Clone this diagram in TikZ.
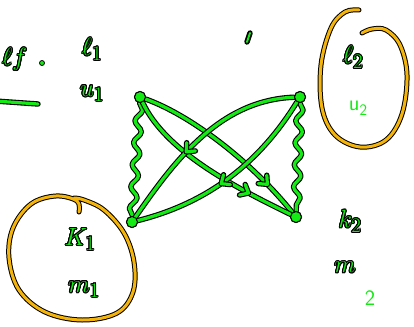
\documentclass[tikz,border=0pt]{standalone}
\usepackage[copies]{contour}
\usetikzlibrary{decorations.pathmorphing,decorations.markings}
\definecolor{hgreen}{RGB}{20,235,20}
\definecolor{horange}{RGB}{245,180,10}
\contourlength{1.1pt}
\contournumber{16}
\newcommand\gtext[1]{\contour{black}{\textcolor{hgreen}{#1}}}
\begin{document}
\begin{tikzpicture}[x=1pt,y=-1pt,
  pen/.style={draw=hgreen, line width=3.2pt, line cap=round, line join=round,
    preaction={draw=black, line width=5.4pt, line cap=round, line join=round}},
  ring/.style={draw=horange, line width=3pt, line cap=round,
    preaction={draw=black, line width=5pt, line cap=round}},
  dot/.style={circle, fill=hgreen, draw=black, line width=1pt, minimum size=11pt, inner sep=0pt},
  wavy/.style={pen, decorate, decoration={snake, amplitude=3.5pt, segment length=22pt}},
  arrmark/.style={postaction={decorate, decoration={markings,
    mark=at position #1 with {\draw[pen] (-7pt,6pt)--(0,0)--(-7pt,-6pt);}}}},
  lab/.style={inner sep=0pt, font=\fontsize{28}{30}\selectfont},
  typed/.style={inner sep=0pt, text=hgreen, font=\sffamily\fontsize{22}{24}\selectfont}]
\useasboundingbox (0,0) rectangle (414,326);
\clip (0,0) rectangle (414,326);
% top-left fragment
\node[lab, anchor=west] (frag) at (2,60) {\gtext{$\ell f$}};
\node[circle, fill=hgreen, draw=black, line width=0.8pt, minimum size=5pt, inner sep=0pt] (pt) at (42,63) {};
\coordinate (ul0) at (-5,101);
\coordinate (ul1) at (38,104);
\draw[pen] (ul0) -- (ul1);
% small mark at top
\coordinate (m0) at (250,33);
\coordinate (m1) at (247,42);
\draw[pen, line width=2pt, preaction={draw=black,line width=3.6pt}] (m0) -- (m1);
% labels
\node[lab] (l1) at (92,50) {\gtext{$\ell_1$}};
\node[lab] (u1) at (92,94) {\gtext{$u_1$}};
\node[lab] (l2) at (353,58) {\gtext{$\ell_2$}};
\node[typed] (u2) at (358,108) {u\raisebox{-5pt}{\fontsize{16}{18}\selectfont 2}};
\node[lab] (k1) at (80,240) {\gtext{$K_1$}};
\node[lab] (m1l) at (84,290) {\gtext{$m_1$}};
\node[lab] (k2) at (350,222) {\gtext{$k_2$}};
\node[lab] (m2) at (345,268) {\gtext{$m$}};
\node[typed] (two) at (370,298) {2};
% ellipses
\draw[ring] plot[smooth, tension=0.6] coordinates {(359,10) (345,12) (331,28) (321,65) (322,108) (335,135) (360,147) (386,140) (402,114) (407,75) (400,45) (386,30) (372,29) (362,33)};
\draw[ring] plot[smooth, tension=0.6] coordinates {(79,212) (77,201) (56,196) (31,204) (13,228) (9,258) (19,290) (45,312) (82,320) (117,313) (133,292) (134,262) (124,233) (104,210) (84,200) (74,198)};
% nodes
\node[dot] (tl) at (140,97) {};
\node[dot] (tr) at (300,97) {};
\node[dot] (bl) at (132,222) {};
\node[dot] (br) at (296,217) {};
% connectors
\draw[wavy] (tl) -- (bl);
\draw[wavy] (tr) -- (br);
\draw[pen, arrmark=0.8] (tl) .. controls (190,115) and (250,160) .. (br);
\draw[pen, arrmark=0.75] (tl) .. controls (165,150) and (230,185) .. (br);
\draw[pen, arrmark=0.6] (tr) .. controls (220,100) and (175,160) .. (bl);
\draw[pen, arrmark=0.55] (tr) .. controls (255,170) and (200,205) .. (bl);
\node[dot] at (tl) {};
\node[dot] at (tr) {};
\node[dot] at (bl) {};
\node[dot] at (br) {};
\end{tikzpicture}
\end{document}
